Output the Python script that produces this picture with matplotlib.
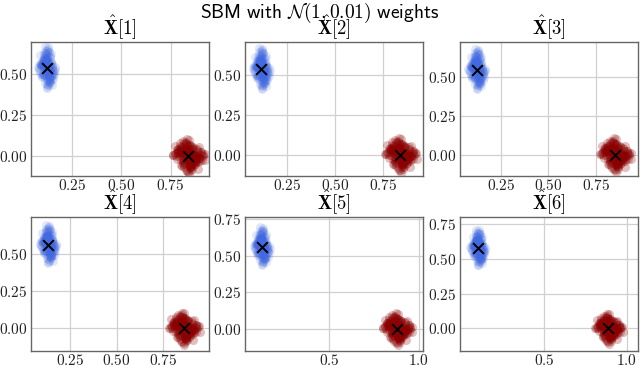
import numpy as np
import matplotlib
matplotlib.use('Agg')
import matplotlib.pyplot as plt
from matplotlib.ticker import FuncFormatter

plt.rcParams['mathtext.fontset'] = 'cm'

# --- data -------------------------------------------------------------------
panel_labels = ['1', '2', '3', '4', '5', '6']

# cluster centres (the black crosses) per panel
blue_cx = [0.120, 0.117, 0.121, 0.130, 0.123, 0.100]
blue_cy = [0.539, 0.534, 0.547, 0.560, 0.559, 0.577]
red_cx = [0.840, 0.840, 0.852, 0.862, 0.879, 0.889]
red_cy = [0.000, 0.000, 0.000, 0.000, 0.000, 0.000]

# cluster spread (x, y)
blue_sx, blue_sy = 0.019, 0.056
red_sx, red_sy = 0.036, 0.046

# hand-typed normalised point offsets inside a cloud
off_x = [0.3, -1.2, 0.8, -0.4, 1.5, -0.1, 0.6, -0.9, 0.2, -1.7,
         1.1, -0.5, 0.0, 0.9, -0.3, -1.4, 0.4, 1.9, -0.7, 0.1,
         -0.2, 0.7, -1.0, 1.3, -0.6, 0.5, -2.1, 0.2, 1.0, -0.8,
         0.4, -0.1, 1.6, -1.3, 0.3, -0.4, 0.8, -0.2, 2.2, -0.9,
         0.6, -1.5, 0.1, 1.2, -0.3, 0.0, -0.7, 0.9, -1.1, 0.5,
         1.4, -0.6, 0.2, -1.8, 0.7, -0.2, 1.0, -0.5, 0.3, -1.0,
         -0.1, 1.7, -0.8, 0.4, -1.2, 0.6, 0.1, -0.4, 1.1, -2.4,
         0.8, -0.3, 0.5, -0.9, 1.3, 0.0, -0.6, 1.8, -1.6, 0.2,
         -0.5, 0.9, -0.1, 0.3, -1.3, 1.5, -0.7, 0.6, -0.2, 1.0,
         -1.1, 0.4, 2.0, -0.4, 0.1, -0.8, 0.7, -1.9, 0.5, -0.3,
         1.2, -0.1, 0.8, -1.4, 0.2, -0.6, 1.6, -1.0, 0.3, 0.0,
         -0.9, 0.5, -2.0, 1.1, -0.2, 0.7, -0.5, 1.4, -1.2, 0.4,
         0.9, -0.7, 0.1, -1.5, 2.3, -0.3, 0.6, -0.1, 1.0, -0.8,
         -0.4, 1.3, -1.1, 0.2, 0.8, -1.7, 0.5, -0.2, 1.7, -0.6,
         0.3, -1.0, 0.0, 1.2, -0.5, 0.6, -1.3, 0.9, -0.1, 0.4]
off_y = [-0.5, 0.8, 1.2, -1.6, 0.1, 0.6, -0.9, 0.3, -0.2, 1.4,
         0.7, -1.1, 2.0, -0.4, 0.9, 0.2, -1.8, -0.3, 1.0, -0.7,
         1.5, -0.1, 0.4, -1.2, -0.6, 1.8, 0.0, -0.9, 0.5, 1.1,
         -1.4, 0.8, -0.2, 0.3, 2.3, -0.8, -1.0, 0.6, 0.1, -0.5,
         1.3, 0.4, -2.1, 0.7, -0.3, 1.0, 0.2, -1.5, 0.9, -0.1,
         -0.7, 1.6, 0.5, -0.4, -1.3, 0.0, 1.2, 0.8, -1.9, 0.3,
         0.6, -0.6, 1.4, -1.1, 0.2, -0.2, 1.9, -0.8, -0.4, 0.1,
         -1.0, 1.1, -0.3, 0.7, 0.4, -1.7, 0.9, -0.5, 0.3, 1.7,
         0.0, -1.2, 0.6, 2.1, -0.9, 0.2, -0.1, -1.4, 1.0, 0.5,
         -0.6, 0.3, -0.8, 1.3, -2.2, 0.7, 0.1, 0.4, -1.1, 0.9,
         1.5, -0.4, -1.6, 0.2, 0.8, 1.1, -0.3, -0.7, 0.5, -1.3,
         0.3, 1.8, -0.2, -0.9, 0.6, -0.5, 2.4, 0.0, -1.0, 0.7,
         -0.1, 0.4, 1.2, -0.6, -0.2, 0.9, -1.5, 1.4, 0.1, -0.8,
         0.8, -1.9, 0.3, 1.0, -0.4, 0.5, -0.7, 1.6, -1.2, 0.2,
         -0.3, 0.6, 1.1, -1.0, 1.9, -0.2, 0.4, -1.4, 0.7, 0.0]

# axis ranges and ticks per panel
x_lims = [(0.039, 0.943), (0.033, 0.958), (0.033, 0.974),
          (0.036, 0.997), (0.030, 1.025), (-0.008, 1.068)]
y_lims = [(-0.123, 0.700), (-0.133, 0.705), (-0.136, 0.725),
          (-0.151, 0.749), (-0.150, 0.766), (-0.161, 0.805)]
x_ticks = [[0.25, 0.5, 0.75]] * 4 + [[0.5, 1.0]] * 2
x_decimals = [2, 2, 2, 2, 1, 1]
y_ticks = [[0.0, 0.25, 0.5]] * 4 + [[0.0, 0.25, 0.5, 0.75]] * 2

# --- figure --------------------------------------------------------------------
fig = plt.figure(figsize=(6.4, 3.67), dpi=100)
fig.patch.set_facecolor('white')

lefts = [0.048, 0.383, 0.719]
bottoms = [0.520, 0.044]
w, h = 0.278, 0.366

ox = np.array(off_x)
oy = np.array(off_y)

for i in range(6):
    r, c = divmod(i, 3)
    ax = fig.add_axes([lefts[c], bottoms[r], w, h])

    ax.scatter(blue_cx[i] + blue_sx * ox, blue_cy[i] + blue_sy * oy,
               s=42, color='royalblue', alpha=0.15, linewidths=0, zorder=2)
    ax.scatter(red_cx[i] + red_sx * oy, red_cy[i] + red_sy * ox,
               s=42, color='darkred', alpha=0.25, linewidths=0, zorder=2)
    ax.scatter([blue_cx[i], red_cx[i]], [blue_cy[i], red_cy[i]],
               marker='x', s=60, color='black', linewidths=1.4, zorder=3)

    ax.set_xlim(*x_lims[i])
    ax.set_ylim(*y_lims[i])
    ax.set_xticks(x_ticks[i])
    ax.set_yticks(y_ticks[i])
    d = x_decimals[i]
    ax.xaxis.set_major_formatter(FuncFormatter(lambda v, p, d=d: f'${v:.{d}f}$'))
    ax.yaxis.set_major_formatter(FuncFormatter(lambda v, p: f'${v:.2f}$'))
    ax.tick_params(labelsize=11, length=0, colors='#222222')
    ax.tick_params(axis='y', pad=2.5)
    ax.tick_params(axis='x', pad=1.5)
    ax.grid(True, color='#d0d0d0', linewidth=0.9, zorder=0)
    ax.set_axisbelow(True)
    for sp in ax.spines.values():
        sp.set_color('#666666')
        sp.set_linewidth(1.0)

    ax.set_title(r'$\hat{\mathbf{X}}[' + panel_labels[i] + ']$', fontsize=13.5, pad=0.5)

fig.text(0.5, 0.964, r'$\mathsf{SBM\ with\ }\mathcal{N}(1, 0.01)\mathsf{\ weights}$',
         ha='center', va='center', fontsize=14)

fig.savefig('out.png', dpi=100)
